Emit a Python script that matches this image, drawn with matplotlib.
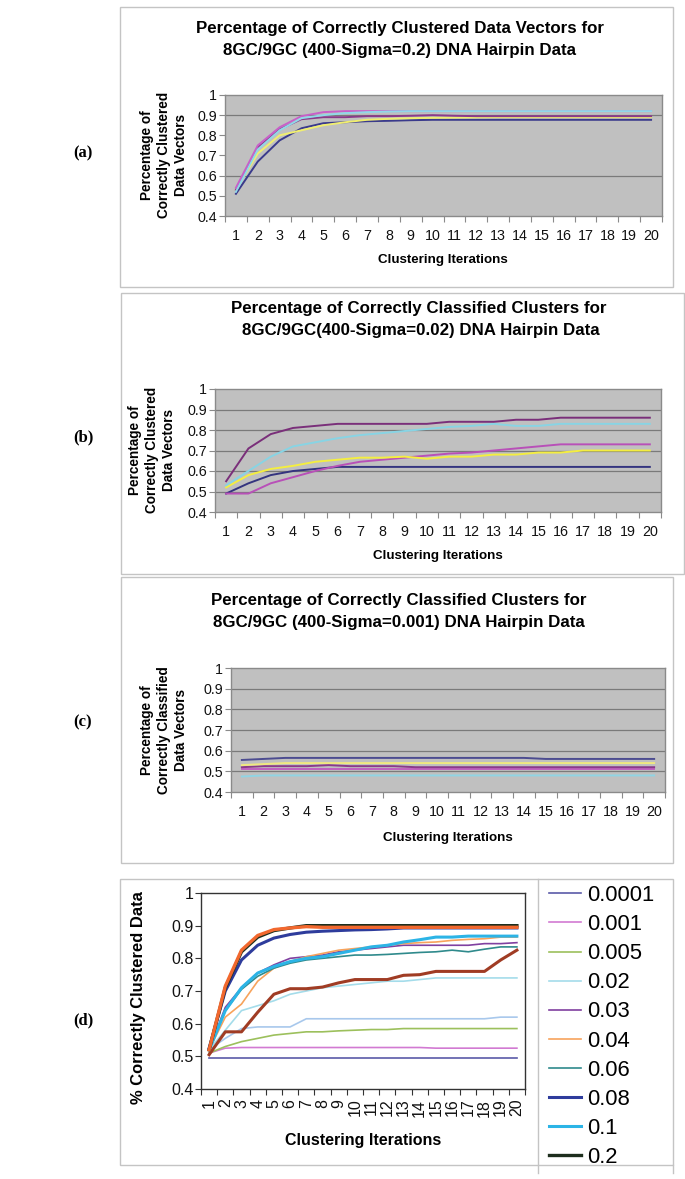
import matplotlib
matplotlib.use("Agg")
import matplotlib.pyplot as plt
from matplotlib.patches import Rectangle
from matplotlib.lines import Line2D
import numpy as np

plt.rcParams['font.family'] = ['Liberation Sans', 'DejaVu Sans']

# ---- data ----
iterations = list(range(1, 21))
iter_labels = [str(i) for i in iterations]

# (a) sigma = 0.2
a_navy = [0.51, 0.67, 0.775, 0.835, 0.86, 0.865, 0.87, 0.872, 0.875, 0.877,
          0.877, 0.877, 0.877, 0.877, 0.877, 0.877, 0.877, 0.877, 0.877, 0.877]
a_yellow = [0.53, 0.71, 0.80, 0.825, 0.85, 0.865, 0.877, 0.882, 0.885, 0.887,
            0.888, 0.889, 0.89, 0.89, 0.89, 0.89, 0.89, 0.89, 0.89, 0.89]
a_purple = [0.53, 0.74, 0.83, 0.88, 0.89, 0.89, 0.895, 0.895, 0.897, 0.90,
            0.897, 0.895, 0.895, 0.895, 0.895, 0.895, 0.895, 0.895, 0.895, 0.895]
a_pink = [0.54, 0.75, 0.84, 0.895, 0.915, 0.92, 0.92, 0.92, 0.92, 0.92,
          0.92, 0.92, 0.92, 0.92, 0.92, 0.92, 0.92, 0.92, 0.92, 0.92]
a_cyan = [0.52, 0.73, 0.825, 0.885, 0.90, 0.91, 0.915, 0.918, 0.92, 0.92,
          0.92, 0.92, 0.92, 0.92, 0.92, 0.92, 0.92, 0.92, 0.92, 0.92]

# (b) sigma = 0.02
b_navy = [0.49, 0.54, 0.58, 0.60, 0.61, 0.62, 0.62, 0.62, 0.62, 0.62,
          0.62, 0.62, 0.62, 0.62, 0.62, 0.62, 0.62, 0.62, 0.62, 0.62]
b_pink = [0.49, 0.49, 0.54, 0.57, 0.60, 0.625, 0.645, 0.655, 0.665, 0.675,
          0.685, 0.69, 0.70, 0.71, 0.72, 0.73, 0.73, 0.73, 0.73, 0.73]
b_yellow = [0.52, 0.58, 0.61, 0.625, 0.645, 0.655, 0.665, 0.665, 0.67, 0.66,
            0.67, 0.67, 0.68, 0.68, 0.69, 0.69, 0.70, 0.70, 0.70, 0.70]
b_cyan = [0.53, 0.60, 0.67, 0.72, 0.74, 0.76, 0.775, 0.785, 0.795, 0.805,
          0.815, 0.82, 0.83, 0.82, 0.82, 0.83, 0.83, 0.83, 0.83, 0.83]
b_purple = [0.55, 0.71, 0.78, 0.81, 0.82, 0.83, 0.83, 0.83, 0.83, 0.83,
            0.84, 0.84, 0.84, 0.85, 0.85, 0.86, 0.86, 0.86, 0.86, 0.86]

# (c) sigma = 0.001
c_cyan = [0.475, 0.48, 0.48, 0.48, 0.48, 0.48, 0.48, 0.48, 0.48, 0.48,
          0.48, 0.48, 0.48, 0.48, 0.48, 0.48, 0.48, 0.48, 0.48, 0.48]
c_pink = [0.51, 0.51, 0.51, 0.51, 0.51, 0.51, 0.51, 0.51, 0.51, 0.51,
          0.51, 0.51, 0.51, 0.51, 0.51, 0.51, 0.51, 0.51, 0.51, 0.51]
c_purple = [0.52, 0.525, 0.525, 0.525, 0.53, 0.525, 0.525, 0.525, 0.52, 0.52,
            0.52, 0.52, 0.52, 0.52, 0.52, 0.52, 0.52, 0.52, 0.52, 0.52]
c_yellow = [0.53, 0.535, 0.54, 0.54, 0.54, 0.54, 0.54, 0.54, 0.54, 0.54,
            0.54, 0.54, 0.54, 0.54, 0.54, 0.54, 0.54, 0.54, 0.54, 0.54]
c_navy = [0.555, 0.56, 0.565, 0.565, 0.565, 0.565, 0.565, 0.565, 0.565, 0.565,
          0.565, 0.565, 0.565, 0.565, 0.56, 0.56, 0.56, 0.56, 0.56, 0.56]

# (d) sigma sweep
d_sigmas = ['0.0001', '0.001', '0.005', '0.02', '0.03', '0.04', '0.06', '0.08', '0.1', '0.2']
d_0001 = [0.495] * 20
d_001 = [0.51, 0.525, 0.527, 0.527, 0.527, 0.527, 0.527, 0.527, 0.527, 0.527,
         0.527, 0.527, 0.527, 0.527, 0.525, 0.525, 0.525, 0.525, 0.525, 0.525]
d_005 = [0.51, 0.53, 0.545, 0.555, 0.565, 0.57, 0.575, 0.575, 0.578, 0.58,
         0.582, 0.582, 0.585, 0.585, 0.585, 0.585, 0.585, 0.585, 0.585, 0.585]
d_02 = [0.52, 0.58, 0.64, 0.655, 0.67, 0.69, 0.70, 0.71, 0.715, 0.72,
        0.725, 0.73, 0.73, 0.735, 0.74, 0.74, 0.74, 0.74, 0.74, 0.74]
d_03 = [0.52, 0.65, 0.71, 0.755, 0.78, 0.80, 0.805, 0.81, 0.82, 0.825,
        0.83, 0.835, 0.84, 0.84, 0.84, 0.84, 0.84, 0.845, 0.845, 0.848]
d_04 = [0.52, 0.62, 0.66, 0.73, 0.77, 0.79, 0.805, 0.815, 0.825, 0.83,
        0.835, 0.84, 0.845, 0.848, 0.85, 0.855, 0.858, 0.86, 0.865, 0.865]
d_06 = [0.52, 0.64, 0.705, 0.745, 0.77, 0.785, 0.795, 0.80, 0.805, 0.81,
        0.81, 0.812, 0.815, 0.818, 0.82, 0.825, 0.82, 0.828, 0.835, 0.835]
d_08 = [0.525, 0.70, 0.795, 0.84, 0.862, 0.873, 0.88, 0.883, 0.885, 0.887,
        0.888, 0.89, 0.893, 0.893, 0.893, 0.893, 0.893, 0.893, 0.893, 0.893]
d_1 = [0.52, 0.64, 0.71, 0.755, 0.775, 0.79, 0.80, 0.805, 0.815, 0.825,
       0.835, 0.84, 0.85, 0.857, 0.865, 0.865, 0.868, 0.868, 0.868, 0.868]
d_2 = [0.52, 0.71, 0.82, 0.865, 0.885, 0.893, 0.90, 0.90, 0.90, 0.90,
       0.90, 0.90, 0.90, 0.90, 0.90, 0.90, 0.90, 0.90, 0.90, 0.90]
# series drawn in the plot whose legend entries are cut off
d_extra_pale = [0.52, 0.555, 0.585, 0.59, 0.59, 0.59, 0.615, 0.615, 0.615, 0.615,
                0.615, 0.615, 0.615, 0.615, 0.615, 0.615, 0.615, 0.615, 0.62, 0.62]
d_extra_orange = [0.52, 0.715, 0.825, 0.87, 0.888, 0.893, 0.897, 0.895, 0.895, 0.895,
                  0.895, 0.895, 0.895, 0.895, 0.895, 0.895, 0.895, 0.895, 0.895, 0.895]
d_extra_brown = [0.505, 0.575, 0.575, 0.635, 0.69, 0.707, 0.707, 0.712, 0.725, 0.735,
                 0.735, 0.735, 0.748, 0.75, 0.76, 0.76, 0.76, 0.76, 0.795, 0.825]

W, H = 685, 1179
fig = plt.figure(figsize=(W / 100, H / 100), dpi=100)
fig.patch.set_facecolor('white')


def fx(px):
    return px / W


def fy(py):
    return 1 - py / H


def add_ax(x0, y0, x1, y1):
    return fig.add_axes([fx(x0), fy(y1), (x1 - x0) / W, (y1 - y0) / H])


def box(x0, y0, x1, y1):
    fig.add_artist(Rectangle((fx(x0), fy(y1)), (x1 - x0) / W, (y1 - y0) / H,
                             transform=fig.transFigure, fill=False,
                             ec='#c4c4c4', lw=1.0))


def excel_axes(ax, grid_vals, bg='#c0c0c0', tick_size=10.3, rot=0, edge='#8a8a8a'):
    ax.set_facecolor(bg)
    ax.set_xlim(0.5, 20.5)
    ax.set_ylim(0.4, 1.0)
    ax.set_yticks([0.4, 0.5, 0.6, 0.7, 0.8, 0.9, 1.0])
    ax.set_yticklabels(['0.4', '0.5', '0.6', '0.7', '0.8', '0.9', '1'])
    ax.set_xticks(np.arange(0.5, 21, 1))
    ax.set_xticklabels([])
    ax.set_xticks(iterations, minor=True)
    ax.set_xticklabels(iter_labels, minor=True, rotation=rot)
    ax.tick_params(axis='x', which='major', length=4, color=edge, direction='out')
    ax.tick_params(axis='x', which='minor', length=0, labelsize=tick_size, pad=9,
                   labelcolor='#111111')
    ax.tick_params(axis='y', length=4, color=edge, labelsize=tick_size, pad=1.5,
                   labelcolor='#111111')
    for s in ax.spines.values():
        s.set_color(edge)
        s.set_linewidth(1.0)
    for g in grid_vals:
        ax.axhline(g, color='#7a7a7a', lw=0.9, zorder=1)


lw = 1.4

# ---------- panel (a) ----------
box(120, 7, 673, 287)
ax = add_ax(225, 95, 662, 216)
excel_axes(ax, [0.6, 0.9])
ax.plot(iterations, a_navy, color='#3a3a8c', lw=lw, zorder=3)
ax.plot(iterations, a_yellow, color='#f0ee70', lw=lw, zorder=3)
ax.plot(iterations, a_purple, color='#8a3a8a', lw=lw, zorder=3)
ax.plot(iterations, a_pink, color='#c860c8', lw=lw, zorder=3)
ax.plot(iterations, a_cyan, color='#90d8e8', lw=lw, zorder=3)
fig.text(fx(400), fy(28), 'Percentage of Correctly Clustered Data Vectors for',
         ha='center', va='center', fontsize=12.2, fontweight='bold')
fig.text(fx(400), fy(50), '8GC/9GC (400-Sigma=0.2) DNA Hairpin Data',
         ha='center', va='center', fontsize=12.2, fontweight='bold')
fig.text(fx(164), fy(155), 'Percentage of\nCorrectly Clustered\nData Vectors',
         rotation=90, ha='center', va='center', fontsize=9.8, fontweight='bold',
         linespacing=1.25)
fig.text(fx(443), fy(260), 'Clustering Iterations', ha='center', va='center',
         fontsize=9.6, fontweight='bold')
fig.text(fx(83), fy(153), '(a)', ha='center', va='center', fontsize=12,
         fontweight='bold', family='Liberation Serif')

# ---------- panel (b) ----------
box(121, 293, 684, 574)
ax = add_ax(215, 389, 661, 512)
excel_axes(ax, [0.5, 0.6, 0.7, 0.8, 0.9])
ax.plot(iterations, b_navy, color='#34347f', lw=lw, zorder=3)
ax.plot(iterations, b_pink, color='#b850b8', lw=lw, zorder=3)
ax.plot(iterations, b_yellow, color='#f4ee40', lw=lw, zorder=3)
ax.plot(iterations, b_cyan, color='#88d4e4', lw=lw, zorder=3)
ax.plot(iterations, b_purple, color='#7a2f7a', lw=lw, zorder=3)
fig.text(fx(419), fy(308), 'Percentage of Correctly Classified Clusters for',
         ha='center', va='center', fontsize=12.2, fontweight='bold')
fig.text(fx(421), fy(331), '8GC/9GC(400-Sigma=0.02) DNA Hairpin Data',
         ha='center', va='center', fontsize=12.2, fontweight='bold')
fig.text(fx(152), fy(450), 'Percentage of\nCorrectly Clustered\nData Vectors',
         rotation=90, ha='center', va='center', fontsize=9.8, fontweight='bold',
         linespacing=1.25)
fig.text(fx(438), fy(556), 'Clustering Iterations', ha='center', va='center',
         fontsize=9.6, fontweight='bold')
fig.text(fx(83), fy(437), '(b)', ha='center', va='center', fontsize=12,
         fontweight='bold', family='Liberation Serif')

# ---------- panel (c) ----------
box(121, 577, 673, 863)
ax = add_ax(231, 668, 665, 792)
excel_axes(ax, [0.5, 0.6, 0.7, 0.8, 0.9])
ax.plot(iterations, c_cyan, color='#90d4e4', lw=lw, zorder=3)
ax.plot(iterations, c_pink, color='#c060c0', lw=lw, zorder=3)
ax.plot(iterations, c_purple, color='#8a3a8a', lw=lw, zorder=3)
ax.plot(iterations, c_yellow, color='#f0e880', lw=lw, zorder=3)
ax.plot(iterations, c_navy, color='#4c4c90', lw=lw, zorder=3)
fig.text(fx(399), fy(600), 'Percentage of Correctly Classified Clusters for',
         ha='center', va='center', fontsize=12.2, fontweight='bold')
fig.text(fx(399), fy(623), '8GC/9GC (400-Sigma=0.001) DNA Hairpin Data',
         ha='center', va='center', fontsize=12.2, fontweight='bold')
fig.text(fx(164), fy(730), 'Percentage of\nCorrectly Classified\nData Vectors',
         rotation=90, ha='center', va='center', fontsize=9.8, fontweight='bold',
         linespacing=1.25)
fig.text(fx(448), fy(838), 'Clustering Iterations', ha='center', va='center',
         fontsize=9.6, fontweight='bold')
fig.text(fx(83), fy(722), '(c)', ha='center', va='center', fontsize=12,
         fontweight='bold', family='Liberation Serif')

# ---------- panel (d) ----------
box(120, 879, 673, 1165)
fig.add_artist(Line2D([fx(538), fx(538)], [fy(879), fy(1173)],
                      transform=fig.transFigure, color='#c4c4c4', lw=1.0))
fig.add_artist(Line2D([fx(673), fx(673)], [fy(1165), fy(1173)],
                      transform=fig.transFigure, color='#c4c4c4', lw=1.0))
ax = add_ax(201, 893, 525, 1089)
excel_axes(ax, [], bg='white', tick_size=11.5, rot=90, edge='#333333')
ax.tick_params(axis='x', which='minor', pad=7)
thin, thick = 1.2, 2.4
h = []
h += ax.plot(iterations, d_0001, color='#5a5aa8', lw=thin, label=d_sigmas[0])
h += ax.plot(iterations, d_001, color='#d27ad2', lw=thin, label=d_sigmas[1])
h += ax.plot(iterations, d_005, color='#9cc05c', lw=thin, label=d_sigmas[2])
ax.plot(iterations, d_extra_pale, color='#a8c8ec', lw=thin)
h += ax.plot(iterations, d_02, color='#a4dcea', lw=thin, label=d_sigmas[3])
h += ax.plot(iterations, d_03, color='#8040a0', lw=thin, label=d_sigmas[4])
h += ax.plot(iterations, d_04, color='#f7a35c', lw=thin, label=d_sigmas[5])
h += ax.plot(iterations, d_06, color='#2f8a8c', lw=thin, label=d_sigmas[6])
ax.plot(iterations, d_extra_brown, color='#a03c24', lw=thin + 1.0)
h += ax.plot(iterations, d_1, color='#2cb4e6', lw=thin + 1.0, label=d_sigmas[8])
h += ax.plot(iterations, d_08, color='#2e3c9c', lw=thin + 1.0, label=d_sigmas[7])
h += ax.plot(iterations, d_2, color='#1d2e1d', lw=thick, label=d_sigmas[9])
ax.plot(iterations, d_extra_orange, color='#f2682e', lw=thick)
order = [0, 1, 2, 3, 4, 5, 6, 8, 7, 9]
handles = [h[i] for i in order]
ax.legend(handles=handles, labels=d_sigmas, loc='upper left',
          bbox_to_anchor=(fx(549), fy(885)), bbox_transform=fig.transFigure,
          frameon=False, fontsize=15.8, handlelength=1.45, handletextpad=0.3,
          labelspacing=0.37, borderpad=0, borderaxespad=0)
fig.text(fx(139), fy(998), '% Correctly Clustered Data', rotation=90,
         ha='center', va='center', fontsize=11.9, fontweight='bold')
fig.text(fx(363), fy(1140), 'Clustering Iterations', ha='center', va='center',
         fontsize=11.5, fontweight='bold')
fig.text(fx(83), fy(1020), '(d)', ha='center', va='center', fontsize=12,
         fontweight='bold', family='Liberation Serif')

fig.savefig('out.png', dpi=100)
